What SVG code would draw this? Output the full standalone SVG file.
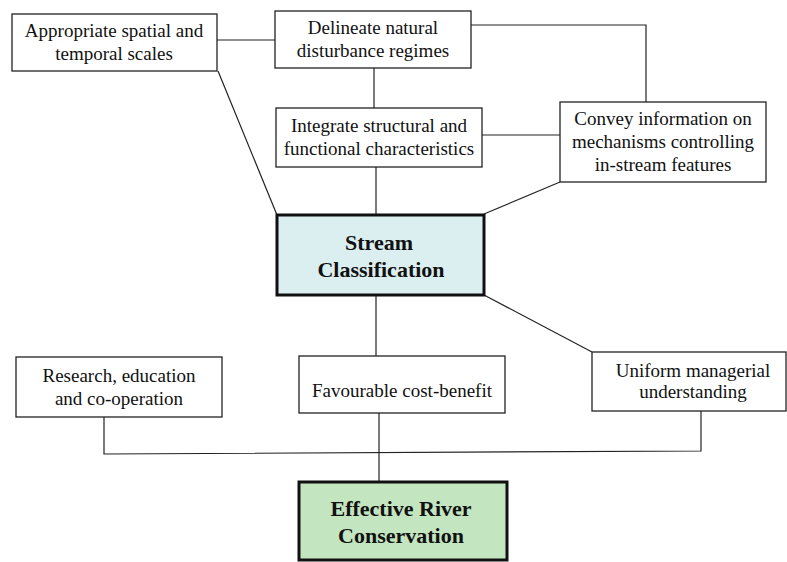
<svg xmlns="http://www.w3.org/2000/svg" width="787" height="562" viewBox="0 0 787 562">
<style>
.box{fill:#ffffff;stroke:#222;stroke-width:1.3}
.main{stroke:#111;stroke-width:3}
.t{font-family:"Liberation Serif","Times New Roman",serif;font-size:19px;fill:#111;text-anchor:middle}
.b{font-family:"Liberation Serif","Times New Roman",serif;font-size:22px;font-weight:bold;fill:#111;text-anchor:middle}
.c{fill:none;stroke:#222;stroke-width:1.2}
</style>
<rect width="787" height="562" fill="#ffffff"/>
<g id="connectors">
<line class="c" x1="217" y1="40" x2="275" y2="40"/>
<polyline class="c" points="471,25 646,25 646,102"/>
<line class="c" x1="374" y1="68" x2="374" y2="108"/>
<line class="c" x1="482" y1="135" x2="560" y2="135"/>
<line class="c" x1="376" y1="167" x2="376" y2="215"/>
<line class="c" x1="218" y1="71" x2="277" y2="215"/>
<line class="c" x1="560" y1="182" x2="484" y2="214"/>
<line class="c" x1="376" y1="295" x2="376" y2="356"/>
<line class="c" x1="484" y1="295" x2="592" y2="352"/>
<polyline class="c" points="104,417 104,454 701,451 701,411"/>
<line class="c" x1="379" y1="413" x2="379" y2="482"/>
</g>
<g id="n-scales">
<rect class="box" x="12" y="14" width="205" height="57"/>
<text class="t" x="114" y="37">Appropriate spatial and</text>
<text class="t" x="114" y="60">temporal scales</text>
</g>
<g id="n-delineate">
<rect class="box" x="275" y="11" width="196" height="57"/>
<text class="t" x="373" y="34">Delineate natural</text>
<text class="t" x="373" y="57">disturbance regimes</text>
</g>
<g id="n-integrate">
<rect class="box" x="276" y="108" width="206" height="59"/>
<text class="t" x="379" y="132">Integrate structural and</text>
<text class="t" x="379" y="155">functional characteristics</text>
</g>
<g id="n-convey">
<rect class="box" x="560" y="102" width="206" height="80"/>
<text class="t" x="663" y="125">Convey information on</text>
<text class="t" x="663" y="148">mechanisms controlling</text>
<text class="t" x="663" y="171">in-stream features</text>
</g>
<g id="n-stream">
<rect class="main" x="277" y="215" width="207" height="80" fill="#dbeff0"/>
<text class="b" x="379" y="250">Stream</text>
<text class="b" x="381" y="277">Classification</text>
</g>
<g id="n-research">
<rect class="box" x="16" y="357" width="206" height="60"/>
<text class="t" x="119" y="382">Research, education</text>
<text class="t" x="119" y="405">and co-operation</text>
</g>
<g id="n-cost">
<rect class="box" x="299" y="356" width="206" height="57"/>
<text class="t" x="402" y="397">Favourable cost-benefit</text>
</g>
<g id="n-uniform">
<rect class="box" x="592" y="352" width="194" height="59"/>
<text class="t" x="693" y="377">Uniform managerial</text>
<text class="t" x="693" y="398">understanding</text>
</g>
<g id="n-effective">
<rect class="main" x="299" y="482" width="208" height="78" fill="#c3e5bf"/>
<text class="b" x="401" y="516">Effective River</text>
<text class="b" x="401" y="543">Conservation</text>
</g>
</svg>
